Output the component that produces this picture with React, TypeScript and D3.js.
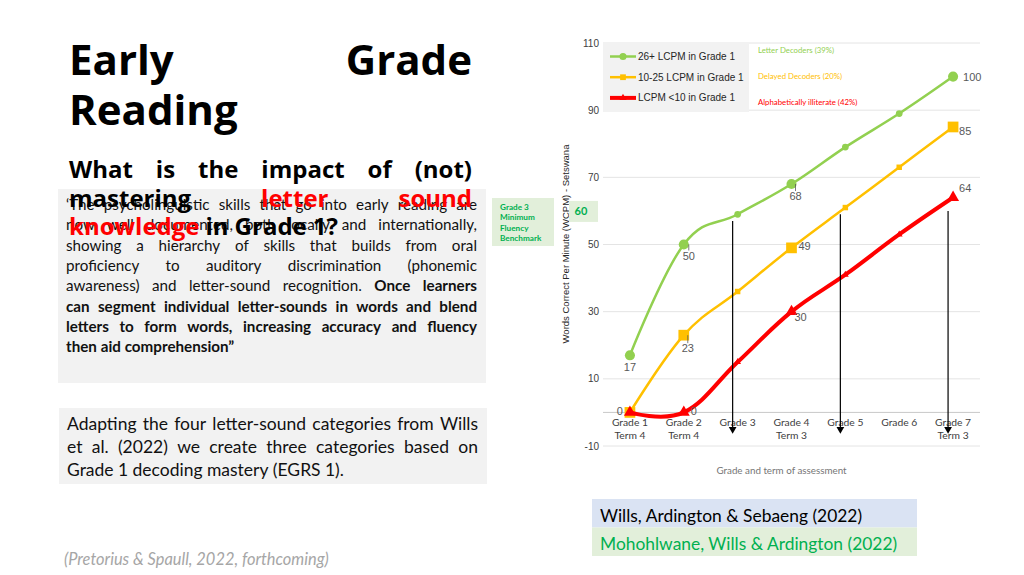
import * as d3 from "d3";
import React from "react";

// chart data
const grades = ["Grade 1", "Grade 2", "Grade 3", "Grade 4", "Grade 5", "Grade 6", "Grade 7"];
const terms = ["Term 4", "Term 4", "", "Term 3", "", "", "Term 3"];
const letterDecoders = [17, 50, 59, 68, 79, 89, 100];
const delayedDecoders = [0, 23, 36, 49, 61, 73, 85];
const illiterate = [0, 0, 15, 30, 41, 53, 64];
const yTicks = [-10, 10, 30, 50, 70, 90, 110];
const legendNames = ["26+ LCPM in Grade 1", "10-25 LCPM in Grade 1", "LCPM <10 in Grade 1"];
const groupNames = ["Letter Decoders (39%)", "Delayed Decoders (20%)", "Alphabetically illiterate (42%)"];
const benchmark = 60;
const benchmarkLines = ["Grade 3", "Minimum", "Fluency", "Benchmark"];
const arrowGrades = ["Grade 3", "Grade 5", "Grade 7"];
const arrowTops = [57, 59, 60];
const arrowBottom = -5;

// slide text
const titleLines = [["Early Grade"], ["Reading"]];
const questionLines: [string, boolean][][] = [
  [["What is the impact of (not)", false]],
  [["mastering", false], ["letter sound", true]],
  [["knowledge", true], ["in Grade 1?", false]],
];
const quoteLines: [string, boolean][][] = [
  [["‘The psycholinguistic skills that go into early reading are", false]],
  [["now well documented, both locally and internationally,", false]],
  [["showing a hierarchy of skills that builds from oral", false]],
  [["proficiency to auditory discrimination (phonemic", false]],
  [["awareness) and letter-sound recognition.", false], ["Once learners", true]],
  [["can segment individual letter-sounds in words and blend", true]],
  [["letters to form words, increasing accuracy and fluency", true]],
  [["then aid comprehension”", true]],
];
const adaptLines = [
  "Adapting the four letter-sound categories from Wills",
  "et al. (2022) we create three categories based on",
  "Grade 1 decoding mastery (EGRS 1).",
];
const citation = "(Pretorius & Spaull, 2022, forthcoming)";
const sources = ["Wills, Ardington & Sebaeng (2022)", "Mohohlwane, Wills & Ardington (2022)"];

type Word = { text: string; bold?: boolean; color?: string };
type ParaOpts = {
  x0: number; x1: number; y0: number; lh: number; size: number;
  family: string; weight?: number; color: string; italic?: boolean; minGap?: number;
};

// lays out justified lines word by word, shrinking the font if a line won't fit
function paragraph(parent: d3.Selection<SVGGElement, unknown, null, undefined>, lines: Word[][], o: ParaOpts) {
  let size = o.size;
  const minGap = o.minGap ?? 0.25;
  for (let attempt = 0; attempt < 2; attempt++) {
    const g = parent.append("g");
    let ratio = 0;
    const rows = lines.map((line, li) => {
      const nodes = line.map((w) =>
        g.append("text")
          .attr("font-family", o.family)
          .attr("font-size", size)
          .attr("font-weight", w.bold ? 700 : o.weight ?? 400)
          .attr("font-style", o.italic ? "italic" : null)
          .attr("fill", w.color ?? o.color)
          .attr("y", o.y0 + li * o.lh)
          .text(w.text)
      );
      const widths = nodes.map((n) => (n.node() as SVGTextElement).getComputedTextLength());
      const natural = d3.sum(widths) + size * minGap * (nodes.length - 1);
      ratio = Math.max(ratio, natural / (o.x1 - o.x0));
      return { nodes, widths };
    });
    if (ratio > 1 && attempt === 0) {
      g.remove();
      size = (size / ratio) * 0.99;
      continue;
    }
    rows.forEach(({ nodes, widths }, li) => {
      const last = li === lines.length - 1;
      const gap = last || nodes.length < 2 ? size * 0.25 : (o.x1 - o.x0 - d3.sum(widths)) / (nodes.length - 1);
      let x = o.x0;
      nodes.forEach((n, i) => {
        n.attr("x", x);
        x += widths[i] + gap;
      });
    });
    break;
  }
}

const toWords = (segs: [string, boolean][], color: string, bold = false): Word[] =>
  segs.flatMap(([t, flag]) =>
    t.split(" ").map((w) => (bold ? { text: w, bold: flag } : { text: w, color: flag ? color : undefined }))
  );

export default function App() {
  const svgRef = React.useRef<SVGSVGElement>(null);
  const width = 1024;
  const height = 575;
  const plot = { left: 603, right: 980, top: 43, bottom: 446 };

  React.useEffect(() => {
    const svg = d3.select(svgRef.current);
    svg.selectAll("*").remove();
    const root = svg.append("g");

    // ---------- left text panel ----------
    paragraph(root, titleLines.map((l) => l[0].split(" ").map((t) => ({ text: t }))), {
      x0: 69, x1: 472, y0: 75, lh: 50, size: 42, family: "Open Sans", weight: 700, color: "#000",
    });

    root.append("rect").attr("x", 58).attr("y", 189).attr("width", 428).attr("height", 194).attr("fill", "#f2f2f2");
    paragraph(root, quoteLines.map((l) => toWords(l, "", true)), {
      x0: 66, x1: 477, y0: 210, lh: 20.3, size: 15.2, family: "Lato", color: "#111", minGap: 0.2,
    });

    paragraph(root, questionLines.map((l) => toWords(l, "#ff0000")), {
      x0: 69, x1: 472, y0: 178, lh: 28.5, size: 24, family: "Open Sans", weight: 700, color: "#000",
    });

    root.append("rect").attr("x", 59).attr("y", 408).attr("width", 428).attr("height", 76).attr("fill", "#f2f2f2");
    paragraph(root, adaptLines.map((l) => l.split(" ").map((t) => ({ text: t }))), {
      x0: 67, x1: 478, y0: 429.5, lh: 23, size: 17.5, family: "Lato", color: "#111", minGap: 0.18,
    });

    root.append("text")
      .attr("x", 64).attr("y", 565)
      .attr("font-family", "Lato").attr("font-size", 16.4).attr("font-style", "italic")
      .attr("fill", "#a6a6a6")
      .text(citation);

    // ---------- source boxes ----------
    const srcFill = ["#dae3f3", "#e2efda"];
    const srcColor = ["#000", "#00b050"];
    sources.forEach((s, i) => {
      root.append("rect").attr("x", 592).attr("y", 499 + i * 28.5).attr("width", 325).attr("height", 28.5).attr("fill", srcFill[i]);
      root.append("text")
        .attr("x", 600).attr("y", 521.5 + i * 28.5)
        .attr("font-family", "Lato").attr("font-size", 17.4)
        .attr("fill", srcColor[i])
        .text(s);
    });

    // ---------- chart ----------
    const x = d3.scaleBand().domain(grades).range([plot.left, plot.right]);
    const cx = (g: string) => (x(g) ?? 0) + x.bandwidth() / 2;
    const y = d3.scaleLinear().domain([-10, 110]).range([plot.bottom, plot.top]);

    const chart = root.append("g");

    // grid
    chart.selectAll(".grid")
      .data(yTicks)
      .enter()
      .append("line")
      .attr("x1", plot.left).attr("x2", plot.right)
      .attr("y1", (d) => y(d)).attr("y2", (d) => y(d))
      .attr("stroke", "#e4e4e4").attr("stroke-width", 1);
    chart.append("line")
      .attr("x1", plot.left).attr("x2", plot.right)
      .attr("y1", y(0)).attr("y2", y(0))
      .attr("stroke", "#c8c8c8").attr("stroke-width", 1);

    // y ticks
    chart.selectAll(".ytick")
      .data(yTicks)
      .enter()
      .append("text")
      .attr("x", plot.left - 4).attr("y", (d) => y(d) + 3.5)
      .attr("text-anchor", "end")
      .attr("font-family", "Liberation Sans").attr("font-size", 10)
      .attr("fill", "#404040")
      .text((d) => d);

    // x ticks (two lines)
    grades.forEach((g, i) => {
      const t = chart.append("text")
        .attr("text-anchor", "middle")
        .attr("font-family", "Lato").attr("font-size", 10.3)
        .attr("fill", "#404040");
      t.append("tspan").attr("x", cx(g)).attr("y", y(0) + 14).text(g);
      if (terms[i]) t.append("tspan").attr("x", cx(g)).attr("y", y(0) + 27).text(terms[i]);
    });

    // axis titles
    chart.append("text")
      .attr("transform", `translate(569,244) rotate(-90)`)
      .attr("text-anchor", "middle")
      .attr("font-family", "Liberation Sans").attr("font-size", 9.5)
      .attr("fill", "#262626")
      .text("Words Correct Per Minute (WCPM) - Setswana");
    chart.append("text")
      .attr("x", (plot.left + plot.right) / 2 - 10).attr("y", 474)
      .attr("text-anchor", "middle")
      .attr("font-family", "Lato").attr("font-size", 9.8)
      .attr("fill", "#767676")
      .text("Grade and term of assessment");

    // benchmark notes
    chart.append("rect").attr("x", 492).attr("y", 198).attr("width", 62).attr("height", 48).attr("fill", "#e2efda");
    benchmarkLines.forEach((l, i) => {
      chart.append("text")
        .attr("x", 500).attr("y", 210 + i * 10.4)
        .attr("font-family", "Lato").attr("font-size", 8.2).attr("font-weight", 700)
        .attr("fill", "#00b050")
        .text(l);
    });
    chart.append("rect").attr("x", 569).attr("y", y(benchmark) - 10).attr("width", 29).attr("height", 21).attr("fill", "#e2efda");
    chart.append("text")
      .attr("x", 581).attr("y", y(benchmark) + 4)
      .attr("text-anchor", "middle")
      .attr("font-family", "Lato").attr("font-size", 11).attr("font-weight", 700)
      .attr("fill", "#00b050")
      .text(benchmark);

    // series
    const series = [
      { values: letterDecoders, color: "#92d050", width: 2.5, symbol: d3.symbolCircle, big: 80, small: 36 },
      { values: delayedDecoders, color: "#ffc000", width: 2.5, symbol: d3.symbolSquare, big: 115, small: 30 },
      { values: illiterate, color: "#ff0000", width: 4, symbol: d3.symbolTriangle, big: 62, small: 20 },
    ];
    const bigIdx = [0, 1, 3, 6];
    const line = d3.line<number>()
      .x((_, i) => cx(grades[i]))
      .y((d) => y(d))
      .curve(d3.curveCardinal.tension(-0.15));

    // legend
    chart.append("rect").attr("x", plot.left).attr("y", plot.top).attr("width", 146).attr("height", 69).attr("fill", "#f2f2f2");
    const groupColors = ["#92d050", "#ffc000", "#ff0000"];
    series.forEach((s, i) => {
      const ly = 56.5 + i * 20.7;
      chart.append("line")
        .attr("x1", 610).attr("x2", 636).attr("y1", ly).attr("y2", ly)
        .attr("stroke", s.color).attr("stroke-width", s.width);
      chart.append("path")
        .attr("d", d3.symbol(s.symbol, s.small * 1.1)() ?? "")
        .attr("transform", `translate(623,${ly})`)
        .attr("fill", s.color);
      chart.append("text")
        .attr("x", 638).attr("y", ly + 3.5)
        .attr("font-family", "Liberation Sans").attr("font-size", 10)
        .attr("fill", "#262626")
        .text(legendNames[i]);
      chart.append("text")
        .attr("x", 758).attr("y", 52.5 + i * 26)
        .attr("font-family", "Lato").attr("font-size", 7.8)
        .attr("fill", groupColors[i])
        .text(groupNames[i]);
    });

    series.forEach((s) => {
      chart.append("path")
        .attr("d", line(s.values) ?? "")
        .attr("fill", "none")
        .attr("stroke", s.color)
        .attr("stroke-width", s.width)
        .attr("stroke-linejoin", "round");
      chart.selectAll(null)
        .data(s.values)
        .enter()
        .append("path")
        .attr("d", (_, i) => d3.symbol(s.symbol, bigIdx.includes(i) ? s.big : s.small)() ?? "")
        .attr("transform", (d, i) => `translate(${cx(grades[i])},${y(d)})`)
        .attr("fill", s.color);
    });

    // data labels: [series, index, dx, dy, anchor, leader]
    const labels: [number, number, number, number, string, boolean][] = [
      [0, 0, 0, 16, "middle", false],
      [0, 1, 5, 15, "middle", true],
      [0, 3, 4, 16, "middle", true],
      [0, 6, 10, 4, "start", false],
      [1, 0, -7, 3, "end", false],
      [1, 1, 4, 17, "middle", true],
      [1, 3, 7, 2, "start", false],
      [1, 6, 6, 8, "start", false],
      [2, 1, 7, 3, "start", false],
      [2, 3, 3, 9, "start", false],
      [2, 6, 6, -5, "start", false],
    ];
    labels.forEach(([si, i, dx, dy, anchor, leader]) => {
      const px = cx(grades[i]);
      const py = y(series[si].values[i]);
      if (leader) {
        chart.append("line")
          .attr("x1", px + dx).attr("x2", px + dx)
          .attr("y1", py).attr("y2", py + dy - 9)
          .attr("stroke", "#595959").attr("stroke-width", 0.8);
      }
      chart.append("text")
        .attr("x", px + dx).attr("y", py + dy)
        .attr("text-anchor", anchor)
        .attr("font-family", "Liberation Sans").attr("font-size", 11)
        .attr("fill", "#595959")
        .text(series[si].values[i]);
    });

    // arrows down from the benchmark level
    arrowGrades.forEach((g, i) => {
      chart.append("line")
        .attr("x1", cx(g) - 5).attr("x2", cx(g) - 5)
        .attr("y1", y(arrowTops[i])).attr("y2", y(arrowBottom))
        .attr("stroke", "#000").attr("stroke-width", 1.2);
      chart.append("path")
        .attr("d", d3.symbol(d3.symbolTriangle, 26)() ?? "")
        .attr("transform", `translate(${cx(g) - 5},${y(arrowBottom)}) rotate(180)`)
        .attr("fill", "#000");
    });
  }, []);

  return (
    <svg
      ref={svgRef}
      width={width}
      height={height}
      viewBox={`0 0 ${width} ${height}`}
      style={{ position: "absolute", left: 0, top: 0, background: "#fff" }}
    ></svg>
  );
}
